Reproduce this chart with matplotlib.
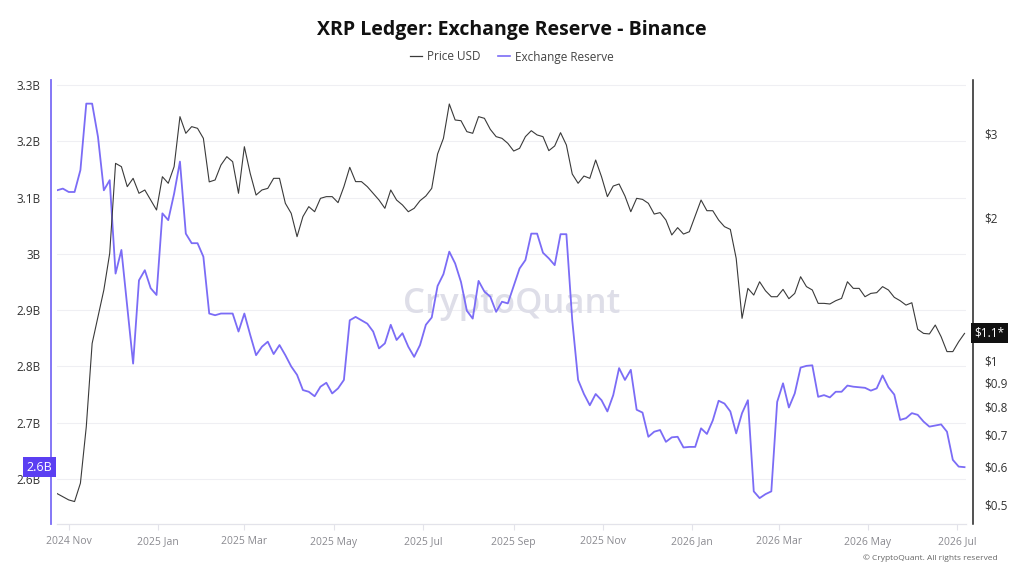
import matplotlib
matplotlib.use("Agg")
import matplotlib.pyplot as plt
import matplotlib.dates as mdates
import matplotlib.transforms as mtransforms
from matplotlib.lines import Line2D
from matplotlib.ticker import FixedLocator, FuncFormatter, NullLocator
import pandas as pd

TITLE = "XRP Ledger: Exchange Reserve - Binance"
START_DATE = "2024-10-24"
STEP = "4D"  # one reading every 4 days

# Binance XRP exchange reserve, billions of XRP (left axis)
reserve_b = [
    3.113, 3.116, 3.110, 3.110, 3.149, 3.267, 3.267, 3.208, 3.113, 3.131,
    2.965, 3.007, 2.906, 2.805, 2.953, 2.971, 2.939, 2.927, 3.072, 3.060,
    3.107, 3.164, 3.036, 3.019, 3.019, 2.995, 2.894,
    2.891, 2.894, 2.894, 2.894, 2.862, 2.894, 2.856, 2.820, 2.835, 2.844,
    2.822, 2.838, 2.820, 2.800, 2.785, 2.758, 2.755, 2.747, 2.764, 2.771,
    2.752, 2.761, 2.776, 2.882, 2.888,
    2.882, 2.876, 2.862, 2.832, 2.841, 2.874, 2.847, 2.859, 2.835, 2.817,
    2.838, 2.874, 2.887, 2.943, 2.964, 3.004, 2.983, 2.950, 2.899, 2.885,
    2.952, 2.933, 2.924, 2.897, 2.915, 2.912,
    2.943, 2.974, 2.989, 3.036, 3.036, 3.002, 2.992, 2.980, 3.035, 3.035,
    2.882, 2.776, 2.751, 2.731, 2.751, 2.740, 2.720, 2.749, 2.797, 2.776,
    2.794, 2.723, 2.718, 2.675, 2.684, 2.687,
    2.666, 2.674, 2.675, 2.656, 2.657, 2.657, 2.690, 2.680, 2.704, 2.739,
    2.734, 2.720, 2.681, 2.717, 2.740, 2.578, 2.566, 2.573, 2.578, 2.737,
    2.770, 2.727, 2.752,
    2.798, 2.801, 2.802, 2.746, 2.749, 2.745, 2.755, 2.755, 2.766, 2.764,
    2.763, 2.762, 2.757, 2.761, 2.784, 2.763, 2.750, 2.705, 2.708, 2.717,
    2.714, 2.702, 2.693, 2.695, 2.697, 2.684, 2.634, 2.622, 2.621,
]

# XRP price in USD (right axis, log)
price_usd = [
    0.526, 0.518, 0.510, 0.506, 0.553, 0.726, 1.086, 1.236, 1.406, 1.678,
    2.592, 2.551, 2.316, 2.411, 2.243, 2.279, 2.171, 2.069, 2.430, 2.354,
    2.551, 3.248, 2.997, 3.095, 3.070, 2.925, 2.370,
    2.392, 2.571, 2.677, 2.613, 2.243, 2.809, 2.469, 2.224, 2.279, 2.297,
    2.411, 2.411, 2.137, 2.036, 1.819, 2.004, 2.103, 2.052, 2.189, 2.207,
    2.207, 2.144, 2.316, 2.543, 2.373,
    2.373, 2.316, 2.243, 2.171, 2.086, 2.279, 2.171, 2.120, 2.052, 2.086,
    2.164, 2.214, 2.297, 2.712, 2.925, 3.453, 3.196, 3.185, 3.021, 2.997,
    3.248, 3.222, 3.055, 2.949, 2.925, 2.855,
    2.751, 2.787, 2.949, 3.035, 2.973, 2.949, 2.756, 2.819, 3.006, 2.832,
    2.462, 2.354, 2.438, 2.411, 2.634, 2.430, 2.207, 2.323, 2.346, 2.214,
    2.052, 2.189, 2.178, 2.137, 2.029, 2.043,
    1.971, 1.834, 1.900, 1.842, 1.863, 2.010, 2.171, 2.062, 2.062, 1.971,
    1.909, 1.884, 1.638, 1.226, 1.417, 1.372, 1.463, 1.401, 1.361, 1.361,
    1.410, 1.348, 1.383,
    1.499, 1.429, 1.406, 1.318, 1.318, 1.314, 1.335, 1.350, 1.463, 1.417,
    1.417, 1.361, 1.383, 1.388, 1.429, 1.406, 1.357, 1.335, 1.307, 1.322,
    1.163, 1.140, 1.137, 1.187, 1.122, 1.044, 1.044, 1.095, 1.140,
]

reserve_ticks = [2.6, 2.7, 2.8, 2.9, 3.0, 3.1, 3.2, 3.3]
price_ticks = [0.5, 0.6, 0.7, 0.8, 0.9, 1, 2, 3]

PURPLE = "#7b6cf6"
PURPLE_DARK = "#5b3ff2"
PRICE_COLOR = "#3a3a3a"

dates = pd.date_range(START_DATE, periods=len(reserve_b), freq=STEP)

plt.rcParams["font.family"] = ["Open Sans", "DejaVu Sans"]

fig = plt.figure(figsize=(10.24, 5.76), dpi=100)
ax = fig.add_axes([57 / 1024, 1 - 524 / 576, 909 / 1024, 444 / 576])
ax2 = ax.twinx()

# reserve on the left axis, price on the right (log)
ax.plot(dates, reserve_b, color=PURPLE, lw=1.3, zorder=3)
ax2.plot(dates, price_usd, color=PRICE_COLOR, lw=0.8, zorder=3)

ax.set_xlim(pd.Timestamp("2024-10-24"), pd.Timestamp("2026-07-07"))
ax.set_ylim(2.520, 3.309)
ax2.set_yscale("log")
ax2.set_ylim(0.454, 3.877)

ax.yaxis.set_major_locator(FixedLocator(reserve_ticks))
ax.yaxis.set_major_formatter(FuncFormatter(lambda v, p: f"{v:g}B"))
ax2.yaxis.set_major_locator(FixedLocator(price_ticks))
ax2.yaxis.set_major_formatter(FuncFormatter(lambda v, p: f"${v:g}"))
ax2.yaxis.set_minor_locator(NullLocator())

ax.xaxis.set_major_locator(mdates.MonthLocator(bymonth=[1, 3, 5, 7, 9, 11]))
ax.xaxis.set_major_formatter(mdates.DateFormatter("%Y %b"))

ax.grid(axis="y", color="#efeff3", lw=0.8, zorder=0)
ax.set_axisbelow(True)

for a in (ax, ax2):
    a.spines["top"].set_visible(False)
    a.spines["bottom"].set_color("#e3e3ea")
ax.spines["right"].set_visible(False)
ax2.spines["left"].set_visible(False)
ax.spines["left"].set_position(("outward", 4))
ax.spines["left"].set_color(PURPLE)
ax.spines["left"].set_linewidth(1.3)
ax2.spines["right"].set_position(("outward", 5))
ax2.spines["right"].set_color("#222222")
ax2.spines["right"].set_linewidth(1.1)

ax.tick_params(axis="y", length=0, pad=8, labelsize=8.5, labelcolor="#333333")
ax2.tick_params(axis="y", length=0, pad=8, labelsize=8.5, labelcolor="#333333")
ax.tick_params(axis="x", length=4, color="#e3e3ea", pad=5, labelsize=7.5,
               labelcolor="#8a8a90")

# watermark
ax.text(0.5, 0.495, "CryptoQuant", transform=ax.transAxes, ha="center",
        va="center", fontsize=25, fontweight="semibold", color="#dedee8",
        zorder=1)

# latest value tags
tr_left = mtransforms.blended_transform_factory(ax.transAxes, ax.transData)
ax.text(-0.0055, reserve_b[-1], f"{reserve_b[-1]:.1f}B", transform=tr_left,
        ha="right", va="center", fontsize=9, color="white", zorder=5,
        clip_on=False,
        bbox=dict(boxstyle="square,pad=0.3", fc=PURPLE_DARK, ec="none"))
tr_right = mtransforms.blended_transform_factory(ax2.transAxes, ax2.transData)
ax2.text(1.0095, price_usd[-1], f"${price_usd[-1]:.1f}*", transform=tr_right,
         ha="left", va="center", fontsize=8.5, color="white", zorder=5,
         clip_on=False,
         bbox=dict(boxstyle="square,pad=0.3", fc="#111111", ec="none"))

fig.text(0.5, 1 - 30 / 576, TITLE, ha="center", va="center", fontsize=14,
         fontweight="bold", color="#111111")

handles = [Line2D([], [], color=PRICE_COLOR, lw=0.9),
           Line2D([], [], color=PURPLE, lw=1.2)]
leg = fig.legend(handles, ["Price USD", "Exchange Reserve"], loc="center",
                 bbox_to_anchor=(0.5, 1 - 57 / 576), ncol=2, frameon=False,
                 fontsize=8.5, handlelength=1.0, handletextpad=0.4,
                 columnspacing=1.5)
for t in leg.get_texts():
    t.set_color("#444444")

fig.text(998 / 1024, 1 - 558 / 576, "\u00a9 CryptoQuant. All rights reserved",
         ha="right", va="center", fontsize=6, color="#666666")

fig.savefig("out.png", dpi=100)
